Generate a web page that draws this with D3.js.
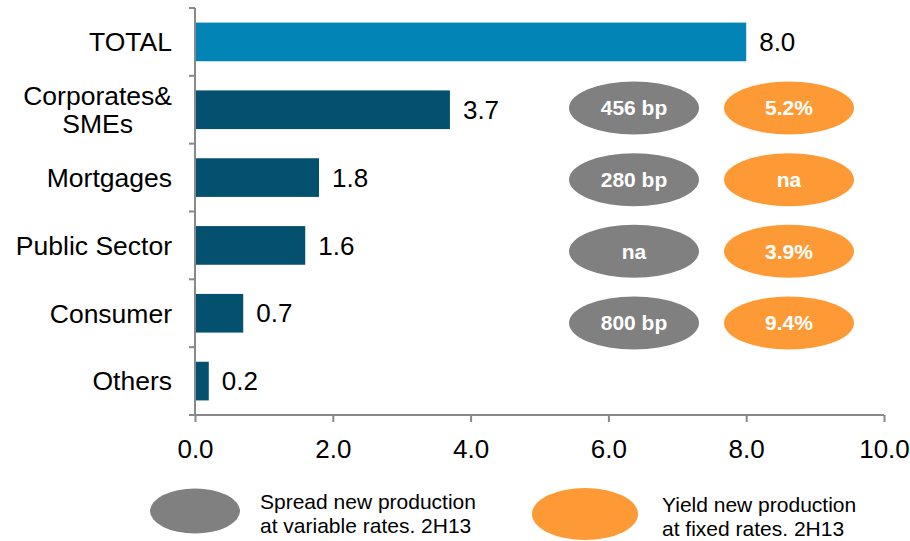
<!DOCTYPE html>
<html>
<head>
<meta charset="utf-8">
<script src="https://cdn.jsdelivr.net/npm/d3@7"></script>
<style>
  html, body { margin: 0; padding: 0; background: #ffffff; }
  svg { display: block; font-family: "Liberation Sans", Arial, sans-serif; }
</style>
</head>
<body>
<svg id="chart" width="910" height="541"></svg>
<script>
// ---- data ----
const categories = ["TOTAL", "Corporates&\nSMEs", "Mortgages", "Public Sector", "Consumer", "Others"];
const values = [8.0, 3.7, 1.8, 1.6, 0.7, 0.2];
const xTicks = [0, 2, 4, 6, 8, 10];
const pillCategories = ["Corporates&\nSMEs", "Mortgages", "Public Sector", "Consumer"];
const spreadLabels = ["456 bp", "280 bp", "na", "800 bp"];
const yieldLabels = ["5.2%", "na", "3.9%", "9.4%"];
const legendLabels = [
  ["Spread new production", "at variable rates. 2H13"],
  ["Yield new production", "at fixed rates. 2H13"]
];

// ---- styles ----
const totalColor = "#0284b7";
const barColor = "#03506f";
const greyColor = "#808080";
const orangeColor = "#fe9a36";
const axisColor = "#898989";

const svg = d3.select("#chart");

const x = d3.scaleLinear().domain([0, 10]).range([195, 884]);
const y = d3.scaleBand().domain(categories).range([8, 415]).paddingInner(0.43).paddingOuter(0.215);
const step = (415 - 8) / categories.length;

// bars
svg.append("g").selectAll("rect")
  .data(categories)
  .join("rect")
  .attr("x", x(0))
  .attr("y", d => y(d))
  .attr("width", (d, i) => x(values[i]) - x(0))
  .attr("height", y.bandwidth())
  .attr("fill", (d, i) => i === 0 ? totalColor : barColor);

// value labels
svg.append("g").selectAll("text")
  .data(categories)
  .join("text")
  .attr("x", (d, i) => x(values[i]) + 13)
  .attr("y", d => y(d) + y.bandwidth() / 2)
  .attr("dy", "0.35em")
  .attr("font-size", 26)
  .attr("fill", "#000")
  .text((d, i) => d3.format(".1f")(values[i]));

// category labels
const catG = svg.append("g");
categories.forEach(c => {
  const lines = c.split("\n");
  const cy = y(c) + y.bandwidth() / 2;
  const t = catG.append("text")
    .attr("font-size", 26.5)
    .attr("fill", "#000");
  const spans = lines.map((ln, i) => t.append("tspan")
    .attr("y", cy + (i - (lines.length - 1) / 2) * 28)
    .attr("dy", "0.35em")
    .text(ln));
  if (lines.length === 1) {
    t.attr("text-anchor", "end").attr("x", 172);
    spans[0].attr("x", 172);
  } else {
    const widths = spans.map(s => s.node().getComputedTextLength());
    const maxW = d3.max(widths);
    const center = 172 - maxW / 2;
    t.attr("text-anchor", "middle");
    spans.forEach(s => s.attr("x", center));
  }
});

// y axis line + boundary ticks
svg.append("line")
  .attr("x1", x(0)).attr("x2", x(0))
  .attr("y1", 8).attr("y2", 415)
  .attr("stroke", axisColor).attr("stroke-width", 2);
svg.append("g").selectAll("line")
  .data(d3.range(categories.length + 1))
  .join("line")
  .attr("x1", x(0) - 6).attr("x2", x(0))
  .attr("y1", i => 8 + i * step).attr("y2", i => 8 + i * step)
  .attr("stroke", axisColor).attr("stroke-width", 2);

// x axis
const xAxis = d3.axisBottom(x)
  .tickValues(xTicks)
  .tickFormat(d3.format(".1f"))
  .tickSize(7)
  .tickPadding(18);
const gx = svg.append("g").attr("transform", "translate(0,415)").call(xAxis);
gx.select(".domain").attr("stroke", axisColor).attr("stroke-width", 2).attr("d", `M${x(0)},0H${x(10)}`);
gx.selectAll(".tick line").attr("stroke", axisColor).attr("stroke-width", 2);
gx.selectAll(".tick text")
  .attr("font-size", 26)
  .attr("font-family", "'Liberation Sans', Arial, sans-serif")
  .attr("fill", "#000");

// pills
const py = d3.scalePoint().domain(pillCategories).range([108, 323]);
const pillG = svg.append("g");
function pills(labels, cx, color) {
  const g = pillG.append("g");
  g.selectAll("ellipse")
    .data(pillCategories)
    .join("ellipse")
    .attr("cx", cx)
    .attr("cy", d => py(d))
    .attr("rx", 65)
    .attr("ry", 26.5)
    .attr("fill", color);
  g.selectAll("text")
    .data(pillCategories)
    .join("text")
    .attr("x", cx)
    .attr("y", d => py(d))
    .attr("dy", "0.35em")
    .attr("text-anchor", "middle")
    .attr("font-size", 21)
    .attr("font-weight", "bold")
    .attr("fill", "#fff")
    .text((d, i) => labels[i]);
}
pills(spreadLabels, 634, greyColor);
pills(yieldLabels, 789, orangeColor);

// legend
const legendItems = [
  { color: greyColor, cx: 195, cy: 511, rx: 45, ry: 22.5, tx: 260, ty: 509 },
  { color: orangeColor, cx: 585, cy: 514, rx: 53, ry: 26, tx: 662, ty: 512 }
];
const lg = svg.append("g");
legendItems.forEach((it, i) => {
  lg.append("ellipse")
    .attr("cx", it.cx).attr("cy", it.cy)
    .attr("rx", it.rx).attr("ry", it.ry)
    .attr("fill", it.color);
  const t = lg.append("text").attr("font-size", 21).attr("fill", "#000");
  legendLabels[i].forEach((ln, j) => {
    t.append("tspan").attr("x", it.tx).attr("y", it.ty + j * 24).text(ln);
  });
});
</script>
</body>
</html>
